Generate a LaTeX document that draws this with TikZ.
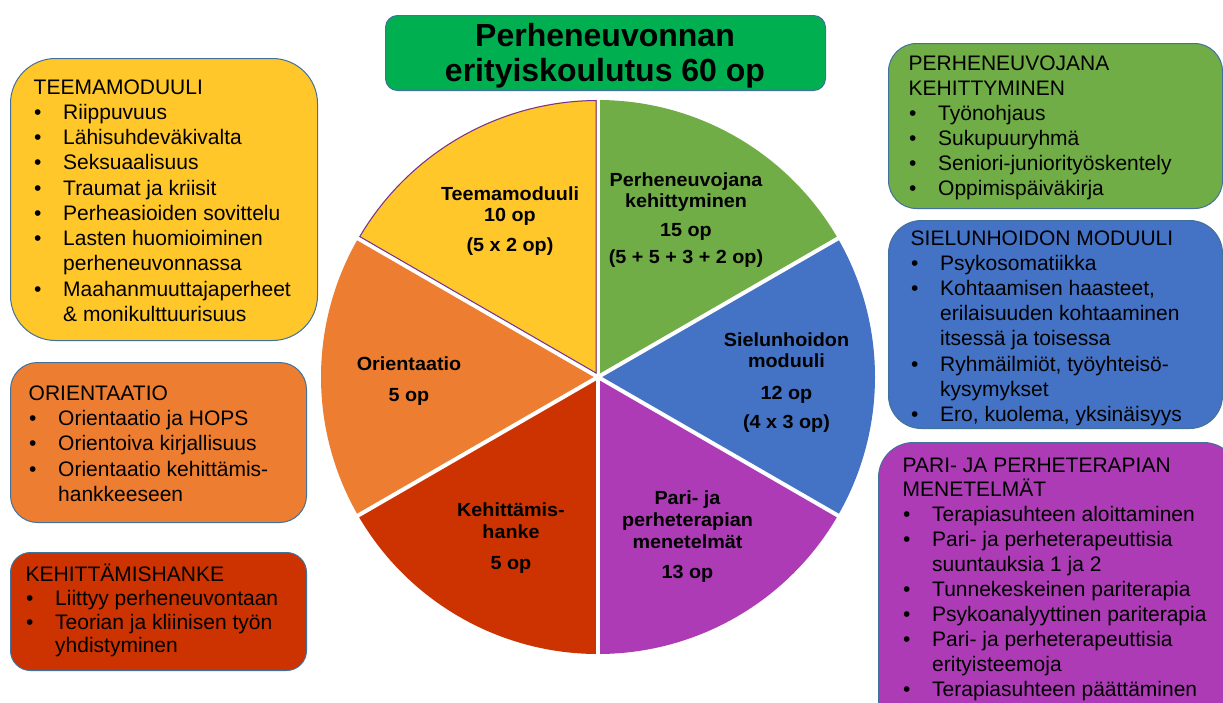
\documentclass[tikz,border=0pt]{standalone}
\usepackage{fontspec}
\setmainfont{Liberation Sans}
\newfontfamily\piefont[FakeStretch=1.04]{Liberation Sans}
\definecolor{cYel}{HTML}{FFC729}
\definecolor{cOra}{HTML}{ED7D31}
\definecolor{cRed}{HTML}{CC3300}
\definecolor{cPur}{HTML}{AD3BB5}
\definecolor{cBlu}{HTML}{4472C4}
\definecolor{cGrn}{HTML}{70AD47}
\definecolor{cTit}{HTML}{00B050}
\definecolor{cBord}{HTML}{41719C}
\definecolor{cPurL}{HTML}{7030A0}
\newcommand\bl{\makebox[0pt][r]{\makebox[29pt][l]{•}}}
\newcommand\hd[1]{\makebox[0pt][l]{\hspace*{-30pt}#1}}
\newcommand\listlines[5]{\foreach \t [count=\i from 0] in {#5} {\node[btext] (#1\i) at (#2,{#3+\i*#4}) {\t};}}
\tikzset{
  mbox/.style={draw=cBord, line width=1pt, inner sep=0pt, anchor=north west},
  btext/.style={anchor=base west, inner sep=0pt, font=\fontsize{21}{25}\selectfont},
  ptext/.style={anchor=base, inner sep=0pt, font=\piefont\bfseries\fontsize{19}{22}\selectfont},
  ttext/.style={anchor=base, inner sep=0pt, font=\bfseries\fontsize{32}{35}\selectfont},
}
\begin{document}
\begin{tikzpicture}[x=1pt,y=-1pt]
\useasboundingbox (0,0) rectangle (1223,702);
\clip (0,0) rectangle (1223,702);
% title
\node[mbox, fill=cTit, rounded corners=12pt, minimum width=440pt, minimum height=75pt] (title) at (385,15) {};
\node[ttext] (title1) at (605,46.7) {Perheneuvonnan};
\node[ttext] (title2) at (605,81.7) {erityiskoulutus 60 op};
% boxes
\node[mbox, fill=cYel, rounded corners=45pt, minimum width=307pt, minimum height=282pt] (bTeema) at (10,58) {};
\node[mbox, fill=cOra, rounded corners=27pt, minimum width=296pt, minimum height=160pt] (bOri) at (10,362) {};
\node[mbox, fill=cRed, rounded corners=20pt, minimum width=296pt, minimum height=118pt] (bKeh) at (10,552) {};
\node[mbox, fill=cGrn, rounded corners=28pt, minimum width=334pt, minimum height=165pt] (bPer) at (888,43) {};
\node[mbox, fill=cBlu, rounded corners=33pt, minimum width=334pt, minimum height=208pt] (bSie) at (888,220) {};
\node[mbox, fill=cPur, rounded corners=35pt, minimum width=360pt, minimum height=300pt] (bPar) at (878,442) {};
% box texts
\listlines{tm}{63}{94}{25.25}{\hd{TEEMAMODUULI}, \bl Riippuvuus, \bl Lähisuhdeväkivalta, \bl Seksuaalisuus, \bl Traumat ja kriisit, \bl Perheasioiden sovittelu, \bl Lasten huomioiminen, perheneuvonnassa, \bl Maahanmuuttajaperheet, \& monikulttuurisuus}
\listlines{or}{58}{400}{25.4}{\hd{ORIENTAATIO}, \bl Orientaatio ja HOPS, \bl Orientoiva kirjallisuus, \bl Orientaatio kehittämis-, hankkeeseen}
\listlines{ke}{55}{581.7}{23.7}{\hd{KEHITTÄMISHANKE}, \bl Liittyy perheneuvontaan, \bl Teorian ja kliinisen työn, yhdistyminen}
\listlines{pe}{938}{70.7}{25}{\hd{PERHENEUVOJANA}, \hd{KEHITTYMINEN}, \bl Työnohjaus, \bl Sukupuuryhmä, \bl Seniori-juniorityöskentely, \bl Oppimispäiväkirja}
\listlines{si}{940}{245}{25.2}{\hd{SIELUNHOIDON MODUULI}, \bl Psykosomatiikka, {\bl Kohtaamisen haasteet,}, erilaisuuden kohtaaminen, itsessä ja toisessa, {\bl Ryhmäilmiöt, työyhteisö-}, kysymykset, {\bl Ero, kuolema, yksinäisyys}}
\listlines{pa}{932}{472}{24.9}{\hd{PARI- JA PERHETERAPIAN}, \hd{MENETELMÄT}, \bl Terapiasuhteen aloittaminen, \bl Pari- ja perheterapeuttisia, suuntauksia 1 ja 2, \bl Tunnekeskeinen pariterapia, \bl Psykoanalyyttinen pariterapia, \bl Pari- ja perheterapeuttisia, erityisteemoja, \bl Terapiasuhteen päättäminen}
% pie
\begin{scope}[shift={(598,377)}, y=1pt]
  \foreach \a/\b/\c in {90/150/cYel, 150/210/cOra, 210/270/cRed, 270/330/cPur, -30/30/cBlu, 30/90/cGrn}
    \fill[\c] (0,0) -- (\a:277) arc[start angle=\a, end angle=\b, radius=277] -- cycle;
  \foreach \a in {30,150,210,270,330}
    \draw[white, line width=4pt] (0,0) -- (\a:281);
  \draw[white, line width=3pt] (0,0) -- (90:281);
  \draw[cPurL, line width=1pt] (-2,4.04) -- (90.41:276.5) arc[start angle=90.41, end angle=149.48, radius=276.5] -- cycle;
\end{scope}
% pie labels
\node[ptext] (y1) at (510,200) {Teemamoduuli};
\node[ptext] (y2) at (510,221) {10 op};
\node[ptext] (y3) at (510,251.5) {(5 x 2 op)};
\node[ptext] (g1) at (686,186.7) {Perheneuvojana};
\node[ptext] (g2) at (686,207) {kehittyminen};
\node[ptext] (g3) at (686,236) {15 op};
\node[ptext] (g4) at (686,263.3) {(5 + 5 + 3 + 2 op)};
\node[ptext] (s1) at (786.5,346) {Sielunhoidon};
\node[ptext] (s2) at (786.5,367.3) {moduuli};
\node[ptext] (s3) at (786.5,399.3) {12 op};
\node[ptext] (s4) at (786.5,428.5) {(4 x 3 op)};
\node[ptext] (o1) at (409,370) {Orientaatio};
\node[ptext] (o2) at (409,401.5) {5 op};
\node[ptext] (r1) at (511,516.7) {Kehittämis-};
\node[ptext] (r2) at (511,538.3) {hanke};
\node[ptext] (r3) at (511,569.3) {5 op};
\node[ptext] (p1) at (687.5,504) {Pari- ja};
\node[ptext] (p2) at (687.5,526) {perheterapian};
\node[ptext] (p3) at (687.5,548) {menetelmät};
\node[ptext] (p4) at (687.5,578.3) {13 op};
\end{tikzpicture}
\end{document}
